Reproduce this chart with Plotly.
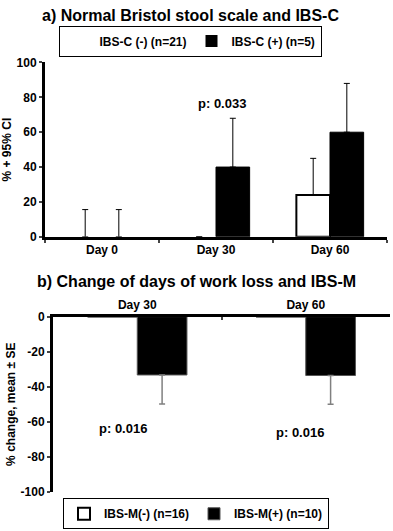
import plotly.graph_objects as go

# ---- data ----
days_a = ["Day 0", "Day 30", "Day 60"]
ibsc_neg = [0, 0, 24]
ibsc_neg_err = [15.6, None, 21]
ibsc_pos = [0, 40, 60]
ibsc_pos_err = [15.6, 28, 28]
p_a = "p: 0.033"
ticks_a = [0, 20, 40, 60, 80, 100]

days_b = ["Day 30", "Day 60"]
ibsm_neg = [0, 0]
ibsm_pos = [-33.3, -33.6]
ibsm_pos_err = [16.5, 16.4]
p_b = ["p: 0.016", "p: 0.016"]
ticks_b = [0, -20, -40, -60, -80, -100]
ticklabels_b = ["0", "-20", "-40", "-60", "-80", "-100"]

FONT = "Liberation Sans, Arial, sans-serif"

fig = go.Figure()

fig.add_trace(go.Bar(
    x=days_a, y=ibsc_neg, name="IBS-C (-) (n=21)",
    marker=dict(color="white", line=dict(color="black", width=[2 if v else 0 for v in ibsc_neg])),
    error_y=dict(type="data", array=ibsc_neg_err, symmetric=False,
                 arrayminus=[0, None, 0], color="black", thickness=1, width=3),
    xaxis="x", yaxis="y", legend="legend"))
fig.add_trace(go.Bar(
    x=days_a, y=ibsc_pos, name="IBS-C (+) (n=5)",
    marker=dict(color="black", line=dict(color="black", width=[1 if v else 0 for v in ibsc_pos])),
    error_y=dict(type="data", array=ibsc_pos_err, symmetric=False,
                 arrayminus=[0, 0, 0], color="black", thickness=1, width=3),
    xaxis="x", yaxis="y", legend="legend"))

fig.add_trace(go.Bar(
    x=days_b, y=ibsm_neg, name="IBS-M(-) (n=16)",
    marker=dict(color="white", line=dict(color="black", width=2)),
    xaxis="x2", yaxis="y2", legend="legend2"))
fig.add_trace(go.Bar(
    x=days_b, y=ibsm_pos, name="IBS-M(+) (n=10)",
    marker=dict(color="black", line=dict(color="#555555", width=1)),
    error_y=dict(type="data", array=[0, 0], symmetric=False,
                 arrayminus=ibsm_pos_err, color="#808080", thickness=1.5, width=3),
    xaxis="x2", yaxis="y2", legend="legend2"))

tickfont = dict(family=FONT, size=12, color="black", weight="bold")

fig.update_layout(
    width=393, height=531,
    margin=dict(l=0, r=0, t=0, b=0),
    paper_bgcolor="white", plot_bgcolor="white",
    barmode="group", bargap=0.41, bargroupgap=0,
    font=dict(family=FONT, color="black"),
    xaxis=dict(domain=[45/393, 387/393], anchor="y", range=[-0.5, 2.5],
               showline=True, linewidth=3, linecolor="black",
               ticks="outside", tickson="boundaries", ticklen=3, tickwidth=2,
               tickfont=tickfont, showgrid=False, zeroline=False),
    yaxis=dict(domain=[1-236/531, 1-57/531], anchor="x", range=[0, 100],
               tickvals=ticks_a, showline=True, linewidth=3, linecolor="black",
               ticks="outside", ticklen=3, tickwidth=2, tickfont=tickfont,
               showgrid=False, zeroline=False,
               title=dict(text="% + 95% CI", standoff=4,
                          font=dict(family=FONT, size=12, weight="bold"))),
    xaxis2=dict(domain=[53/393, 390/393], anchor="y2", range=[-0.5, 1.5],
                side="top", showline=True, linewidth=3, linecolor="black",
                ticks="inside", tickson="boundaries", ticklen=3, tickwidth=2,
                tickfont=tickfont, showgrid=False, zeroline=False),
    yaxis2=dict(domain=[1-498/531, 1-318/531], anchor="x2", range=[-100, 0],
                tickvals=ticks_b, ticktext=ticklabels_b,
                showline=True, linewidth=3, linecolor="black",
                ticks="outside", ticklen=3, tickwidth=2, tickfont=tickfont,
                showgrid=False, zeroline=False,
                title=dict(text="% change, mean ± SE", standoff=3,
                           font=dict(family=FONT, size=12, weight="bold"))),
    legend=dict(orientation="h", x=190/393, y=1-35/531, xanchor="center",
                yanchor="middle", bordercolor="black", borderwidth=1,
                bgcolor="white", itemwidth=30, traceorder="normal",
                font=dict(family=FONT, size=12, weight="bold")),
    legend2=dict(orientation="h", x=196/393, y=1-520.5/531, xanchor="center",
                 yanchor="middle", bordercolor="black", borderwidth=1,
                 bgcolor="white", itemwidth=30, traceorder="normal",
                 font=dict(family=FONT, size=12, weight="bold")),
)

fig.add_annotation(text="a) Normal Bristol stool scale and IBS-C", xref="paper",
                   yref="paper", x=190/393, y=1-9/531, showarrow=False,
                   xanchor="center", yanchor="middle",
                   font=dict(family=FONT, size=16, weight="bold"))
fig.add_annotation(text="b) Change of days of work loss and IBS-M", xref="paper",
                   yref="paper", x=196/393, y=1-282/531, showarrow=False,
                   xanchor="center", yanchor="middle",
                   font=dict(family=FONT, size=16, weight="bold"))

fig.add_annotation(text=p_a, xref="x", yref="y", x=1.05, y=76.5, showarrow=False,
                   font=dict(family=FONT, size=13, weight="bold"))
fig.add_annotation(text=p_b[0], xref="x2", yref="y2", x=-0.085, y=-64, showarrow=False,
                   font=dict(family=FONT, size=13, weight="bold"))
fig.add_annotation(text=p_b[1], xref="x2", yref="y2", x=0.966, y=-66, showarrow=False,
                   font=dict(family=FONT, size=13, weight="bold"))

fig.write_html("out.html", config={"displayModeBar": False},
               post_script="document.body.style.margin='0px';")
